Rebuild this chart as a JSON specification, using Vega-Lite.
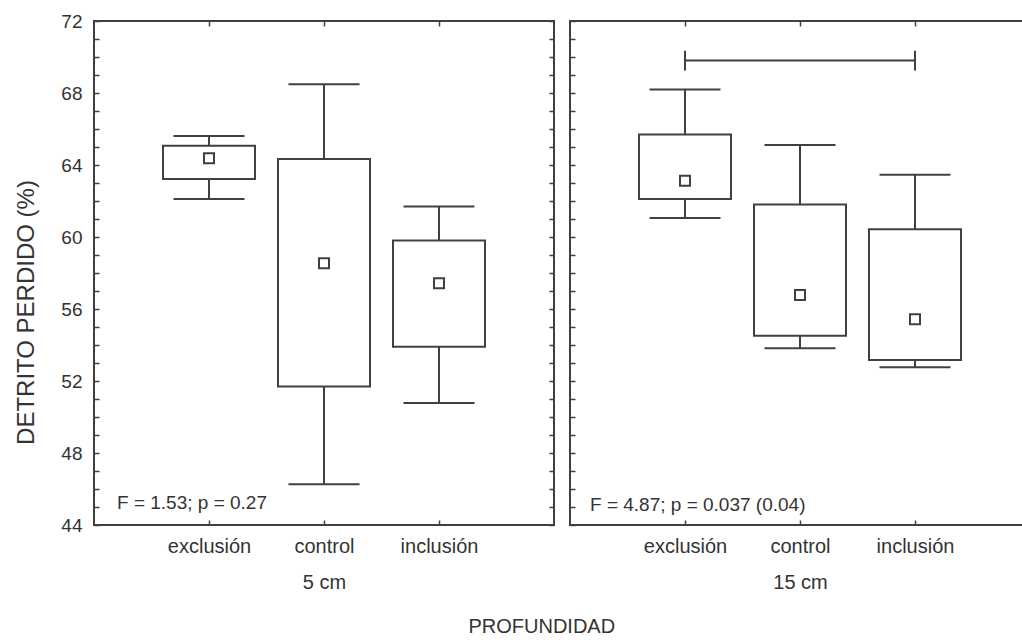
{
  "$schema": "https://vega.github.io/schema/vega-lite/v6.json",
  "background": "white",
  "padding": {"left": 13, "top": 11, "right": 0, "bottom": 0},
  "config": {
    "font": "Liberation Sans",
    "view": {"stroke": "#404040", "strokeWidth": 2},
    "axis": {
      "grid": false,
      "domain": false,
      "tickColor": "#404040",
      "tickWidth": 1.5,
      "tickSize": -5,
      "labelColor": "#333333",
      "titleColor": "#333333",
      "labelFont": "Liberation Sans",
      "titleFont": "Liberation Sans",
      "titleFontWeight": "normal"
    }
  },
  "datasets": {
    "stats": [
      {"depth": "5 cm", "cond": "exclusión", "lo": 62.11, "q1": 63.22, "mean": 64.37, "q3": 65.07, "hi": 65.61},
      {"depth": "5 cm", "cond": "control", "lo": 46.26, "q1": 51.7, "mean": 58.54, "q3": 64.33, "hi": 68.48},
      {"depth": "5 cm", "cond": "inclusión", "lo": 50.78, "q1": 53.9, "mean": 57.43, "q3": 59.8, "hi": 61.69},
      {"depth": "15 cm", "cond": "exclusión", "lo": 61.06, "q1": 62.11, "mean": 63.13, "q3": 65.7, "hi": 68.2},
      {"depth": "15 cm", "cond": "control", "lo": 53.82, "q1": 54.52, "mean": 56.78, "q3": 61.8, "hi": 65.11},
      {"depth": "15 cm", "cond": "inclusión", "lo": 52.76, "q1": 53.17, "mean": 55.43, "q3": 60.43, "hi": 63.46}
    ],
    "notes": [
      {"depth": "5 cm", "cond": "exclusión", "y": 45.2, "text": "F = 1.53; p = 0.27"},
      {"depth": "15 cm", "cond": "exclusión", "y": 45.1, "text": "F = 4.87; p = 0.037 (0.04)"}
    ],
    "bracket": [
      {"depth": "15 cm", "from": "exclusión", "to": "inclusión", "y": 69.8, "lo": 69.25, "hi": 70.35}
    ]
  },
  "hconcat": [
    {
      "width": 460,
      "height": 504,
      "data": {"name": "stats"},
      "transform": [{"filter": "datum.depth === '5 cm'"}],
      "layer": [
        {
          "mark": {"type": "rule", "stroke": "#404040", "strokeWidth": 2},
          "encoding": {
            "x": {"field": "cond", "type": "nominal", "scale": {"type": "point", "padding": 1, "domain": ["exclusión", "control", "inclusión"]},
                  "axis": {"orient": "bottom", "title": "5 cm", "labelAngle": 0, "labelFontSize": 20, "titleFontSize": 20, "labelPadding": 16, "titlePadding": 16}},
            "y": {"field": "lo", "type": "quantitative", "scale": {"domain": [44, 72], "nice": false, "zero": false},
                  "axis": {"orient": "left", "title": "DETRITO PERDIDO (%)", "titleFontSize": 24, "titlePadding": 22, "titleY": 291,
                           "labelFontSize": 19, "labelPadding": 17,
                           "values": [44,45,46,47,48,49,50,51,52,53,54,55,56,57,58,59,60,61,62,63,64,65,66,67,68,69,70,71,72],
                           "labelExpr": "datum.value % 4 === 0 ? datum.label : ''"}},
            "y2": {"field": "hi"}
          }
        },
        {
          "mark": {"type": "tick", "size": 71, "thickness": 2, "color": "#404040", "opacity": 1},
          "encoding": {
            "x": {"field": "cond", "type": "nominal", "scale": {"type": "point", "padding": 1, "domain": ["exclusión", "control", "inclusión"]},
                  "axis": {"orient": "top", "title": null, "labels": false}},
            "y": {"field": "lo", "type": "quantitative",
                  "axis": {"orient": "right", "title": null, "labels": false,
                           "values": [44,45,46,47,48,49,50,51,52,53,54,55,56,57,58,59,60,61,62,63,64,65,66,67,68,69,70,71,72]}}
          }
        },
        {
          "mark": {"type": "tick", "size": 71, "thickness": 2, "color": "#404040", "opacity": 1},
          "encoding": {
            "x": {"field": "cond", "type": "nominal", "axis": null},
            "y": {"field": "hi", "type": "quantitative", "axis": null}
          }
        },
        {
          "mark": {"type": "bar", "width": 92, "fill": "white", "stroke": "#404040", "strokeWidth": 2},
          "encoding": {
            "x": {"field": "cond", "type": "nominal", "axis": null},
            "y": {"field": "q1", "type": "quantitative", "axis": null},
            "y2": {"field": "q3"}
          }
        },
        {
          "mark": {"type": "point", "shape": "square", "size": 100, "filled": true, "fill": "white", "stroke": "#404040", "strokeWidth": 2, "opacity": 1},
          "encoding": {
            "x": {"field": "cond", "type": "nominal", "axis": null},
            "y": {"field": "mean", "type": "quantitative", "axis": null}
          }
        },
        {
          "data": {"name": "notes"},
          "transform": [{"filter": "datum.depth === '5 cm'"}],
          "mark": {"type": "text", "align": "left", "baseline": "middle", "dx": -92, "fontSize": 19, "color": "#333333"},
          "encoding": {
            "x": {"field": "cond", "type": "nominal", "axis": null},
            "y": {"field": "y", "type": "quantitative", "axis": null},
            "text": {"field": "text"}
          }
        }
      ],
      "resolve": {"axis": {"x": "independent", "y": "independent"}}
    },
    {
      "width": 460,
      "height": 504,
      "data": {"name": "stats"},
      "transform": [{"filter": "datum.depth === '15 cm'"}],
      "layer": [
        {
          "mark": {"type": "rule", "stroke": "#404040", "strokeWidth": 2},
          "encoding": {
            "x": {"field": "cond", "type": "nominal", "scale": {"type": "point", "padding": 1, "domain": ["exclusión", "control", "inclusión"]},
                  "axis": {"orient": "bottom", "title": "15 cm", "labelAngle": 0, "labelFontSize": 20, "titleFontSize": 20, "labelPadding": 16, "titlePadding": 16}},
            "y": {"field": "lo", "type": "quantitative", "scale": {"domain": [44, 72], "nice": false, "zero": false},
                  "axis": {"orient": "left", "title": null, "labels": false,
                           "values": [44,45,46,47,48,49,50,51,52,53,54,55,56,57,58,59,60,61,62,63,64,65,66,67,68,69,70,71,72]}},
            "y2": {"field": "hi"}
          }
        },
        {
          "mark": {"type": "tick", "size": 71, "thickness": 2, "color": "#404040", "opacity": 1},
          "encoding": {
            "x": {"field": "cond", "type": "nominal", "scale": {"type": "point", "padding": 1, "domain": ["exclusión", "control", "inclusión"]},
                  "axis": {"orient": "top", "title": null, "labels": false}},
            "y": {"field": "lo", "type": "quantitative",
                  "axis": {"orient": "right", "title": null, "labels": false,
                           "values": [44,45,46,47,48,49,50,51,52,53,54,55,56,57,58,59,60,61,62,63,64,65,66,67,68,69,70,71,72]}}
          }
        },
        {
          "mark": {"type": "tick", "size": 71, "thickness": 2, "color": "#404040", "opacity": 1},
          "encoding": {
            "x": {"field": "cond", "type": "nominal", "axis": null},
            "y": {"field": "hi", "type": "quantitative", "axis": null}
          }
        },
        {
          "mark": {"type": "bar", "width": 92, "fill": "white", "stroke": "#404040", "strokeWidth": 2},
          "encoding": {
            "x": {"field": "cond", "type": "nominal", "axis": null},
            "y": {"field": "q1", "type": "quantitative", "axis": null},
            "y2": {"field": "q3"}
          }
        },
        {
          "mark": {"type": "point", "shape": "square", "size": 100, "filled": true, "fill": "white", "stroke": "#404040", "strokeWidth": 2, "opacity": 1},
          "encoding": {
            "x": {"field": "cond", "type": "nominal", "axis": null},
            "y": {"field": "mean", "type": "quantitative", "axis": null}
          }
        },
        {
          "data": {"name": "notes"},
          "transform": [{"filter": "datum.depth === '15 cm'"}],
          "mark": {"type": "text", "align": "left", "baseline": "middle", "dx": -95, "fontSize": 19, "color": "#333333"},
          "encoding": {
            "x": {"field": "cond", "type": "nominal", "axis": null},
            "y": {"field": "y", "type": "quantitative", "axis": null},
            "text": {"field": "text"}
          }
        },
        {
          "data": {"name": "bracket"},
          "mark": {"type": "rule", "stroke": "#404040", "strokeWidth": 2},
          "encoding": {
            "x": {"field": "from", "type": "nominal", "axis": null},
            "x2": {"field": "to"},
            "y": {"field": "y", "type": "quantitative", "axis": null}
          }
        },
        {
          "data": {"name": "bracket"},
          "mark": {"type": "rule", "stroke": "#404040", "strokeWidth": 2},
          "encoding": {
            "x": {"field": "from", "type": "nominal", "axis": null},
            "y": {"field": "lo", "type": "quantitative", "axis": null},
            "y2": {"field": "hi"}
          }
        },
        {
          "data": {"name": "bracket"},
          "mark": {"type": "rule", "stroke": "#404040", "strokeWidth": 2},
          "encoding": {
            "x": {"field": "to", "type": "nominal", "axis": null},
            "y": {"field": "lo", "type": "quantitative", "axis": null},
            "y2": {"field": "hi"}
          }
        }
      ],
      "resolve": {"axis": {"x": "independent", "y": "independent"}}
    }
  ],
  "spacing": 12,
  "title": {"text": "PROFUNDIDAD", "orient": "bottom", "anchor": "middle", "fontSize": 20, "fontWeight": "normal", "color": "#333333", "font": "Liberation Sans", "offset": 24, "dx": 19}
}
